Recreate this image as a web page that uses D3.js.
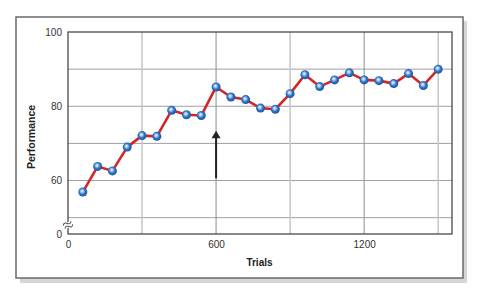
<!DOCTYPE html>
<html>
<head>
<meta charset="utf-8">
<script src="https://cdn.jsdelivr.net/npm/d3@7"></script>
<style>
    body { margin: 0; background: #fff; }
    svg { display: block; font-family: "Liberation Sans", Arial, sans-serif; }
</style>
</head>
<body>
<svg id="chart" width="482" height="296"></svg>
<script>
// Dados do gráfico.
var trials = [60, 120, 180, 240, 300, 360, 420, 480, 540, 600, 660, 720, 780,
    840, 900, 960, 1020, 1080, 1140, 1200, 1260, 1320, 1380, 1440, 1500];
var scores = [56.9, 63.8, 62.6, 69.0, 72.1, 71.9, 78.9, 77.7, 77.5, 85.2,
    82.5, 81.8, 79.5, 79.2, 83.4, 88.5, 85.3, 87.1, 89.0, 87.1, 86.9, 86.1,
    88.8, 85.6, 90.0];
var xTicks = [0, 600, 1200];
var yTicks = [60, 80, 100];
var xGrid = [300, 600, 900, 1200, 1500];
var yGrid = [50, 60, 70, 80, 90];

var svg = d3.select('#chart'),
    pLeft = 68, pRight = 452, pTop = 32, pBottom = 234;

var x = d3.scaleLinear().domain([0, 1556]).range([pLeft, pRight]);
var y = d3.scaleLinear().domain([45.6, 100]).range([pBottom, pTop]);

// Moldura externa com sombra.
svg.append('rect').attr('x', 20).attr('y', 21).attr('width', 447).attr('height', 262)
    .attr('fill', '#d6d6d6');
svg.append('rect').attr('x', 16).attr('y', 17).attr('width', 447).attr('height', 261)
    .attr('fill', '#fff').attr('stroke', '#6a6a6a').attr('stroke-width', 1.5);

// Gradiente das esferas.
var grad = svg.append('defs').append('radialGradient')
    .attr('id', 'ball').attr('cx', '45%').attr('cy', '45%').attr('r', '60%')
    .attr('fx', '42%').attr('fy', '38%');
grad.append('stop').attr('offset', '0%').attr('stop-color', '#ffffff');
grad.append('stop').attr('offset', '25%').attr('stop-color', '#a6c8ee');
grad.append('stop').attr('offset', '55%').attr('stop-color', '#2f73c8');
grad.append('stop').attr('offset', '100%').attr('stop-color', '#1a4f99');

var g = svg.append('g');

g.selectAll('.hgrid').data(yGrid).enter().append('line')
    .attr('class', 'hgrid')
    .attr('x1', pLeft).attr('x2', pRight)
    .attr('y1', function (d) { return y(d); })
    .attr('y2', function (d) { return y(d); })
    .attr('stroke', '#a0a0a0').attr('stroke-width', 1);

g.selectAll('.vgrid').data(xGrid).enter().append('line')
    .attr('class', 'vgrid')
    .attr('y1', pTop).attr('y2', pBottom)
    .attr('x1', function (d) { return x(d); })
    .attr('x2', function (d) { return x(d); })
    .attr('stroke', function (d) { return d % 600 === 0 ? '#8c8c8c' : '#c8c8c8'; })
    .attr('stroke-width', function (d) { return d % 600 === 0 ? 1 : 1.6; });

// Borda da área do gráfico.
g.append('rect').attr('x', pLeft).attr('y', pTop)
    .attr('width', pRight - pLeft).attr('height', pBottom - pTop)
    .attr('fill', 'none').attr('stroke', '#3a3a3a').attr('stroke-width', 1.2);

// Eixos.
var xAxis = g.append('g').attr('transform', 'translate(0,' + pBottom + ')')
    .call(d3.axisBottom(x).tickValues(xTicks).tickFormat(d3.format('d')).tickSize(0).tickPadding(7));
var yAxis = g.append('g').attr('transform', 'translate(' + pLeft + ',0)')
    .call(d3.axisLeft(y).tickValues(yTicks).tickFormat(d3.format('d')).tickSize(0).tickPadding(6));
[xAxis, yAxis].forEach(function (a) {
    a.select('.domain').remove();
    a.selectAll('text').attr('font-size', 10).attr('fill', '#333')
        .attr('font-family', '"Liberation Sans", Arial, sans-serif');
});
g.append('text').attr('x', pLeft - 6).attr('y', pBottom + 4)
    .attr('text-anchor', 'end').attr('font-size', 10).attr('fill', '#333')
    .text('0');

// Quebra do eixo y.
var brk = g.append('g').attr('transform', 'translate(' + pLeft + ',' + (pBottom - 9) + ') rotate(-30)');
brk.append('rect').attr('x', -3).attr('y', -2.5).attr('width', 6).attr('height', 5).attr('fill', '#fff');
[-1.8, 1.8].forEach(function (o) {
    brk.append('path')
        .attr('d', 'M-4.5,' + o + ' q2.25,-3 4.5,0 t4.5,0')
        .attr('fill', 'none').attr('stroke', '#555').attr('stroke-width', 1);
});

// Linha e pontos.
var line = d3.line()
    .x(function (d, i) { return x(trials[i]); })
    .y(function (d) { return y(d); });
g.append('path').datum(scores)
    .attr('d', line)
    .attr('fill', 'none').attr('stroke', '#d42626').attr('stroke-width', 2.6)
    .attr('stroke-linejoin', 'round');
g.selectAll('.dot').data(scores).enter().append('circle')
    .attr('class', 'dot')
    .attr('cx', function (d, i) { return x(trials[i]); })
    .attr('cy', function (d) { return y(d); })
    .attr('r', 4.5)
    .attr('fill', 'url(#ball)');

// Seta em 600.
var ax = x(600);
g.append('line').attr('x1', ax).attr('x2', ax)
    .attr('y1', y(60.6)).attr('y2', y(71.6))
    .attr('stroke', '#222').attr('stroke-width', 2);
g.append('path')
    .attr('d', 'M' + (ax - 4.5) + ',' + y(71.4) + ' L' + ax + ',' + y(73.4) + ' L' + (ax + 4.5) + ',' + y(71.4) + 'Z')
    .attr('fill', '#222');

// Títulos dos eixos.
g.append('text').attr('x', 259.5).attr('y', 265.5)
    .attr('text-anchor', 'middle').attr('font-size', 10).attr('font-weight', 'bold')
    .attr('fill', '#222').text('Trials');
g.append('text').attr('transform', 'translate(35,137) rotate(-90)')
    .attr('text-anchor', 'middle').attr('font-size', 10.5).attr('font-weight', 'bold')
    .attr('fill', '#222').text('Performance');
</script>
</body>
</html>
